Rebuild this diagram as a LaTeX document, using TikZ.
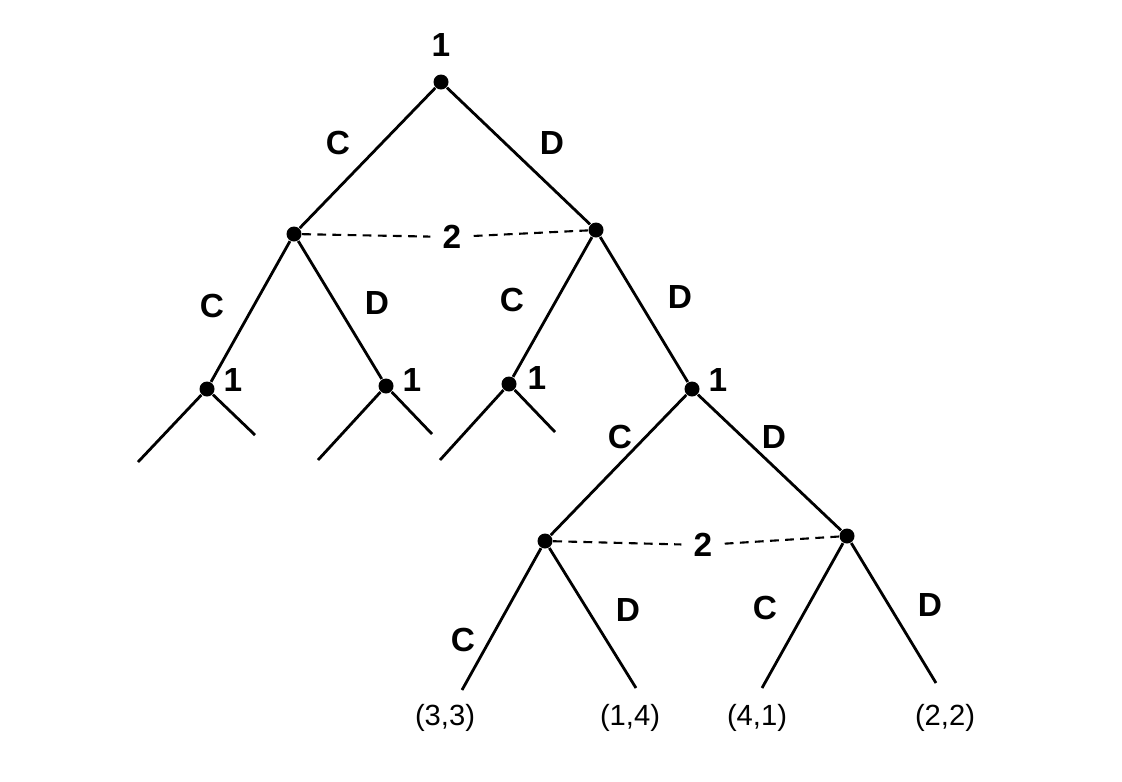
\documentclass[tikz,border=0pt]{standalone}
\usepackage{fontspec}
\setmainfont{Liberation Sans}
\begin{document}
\begin{tikzpicture}[x=0.01cm,y=-0.01cm,
  dot/.style={circle,fill=black,inner sep=0pt,minimum size=0.15cm},
  edge/.style={line width=0.8pt},
  info/.style={dash pattern=on 2.5pt off 1.8pt,line width=0.6pt},
  lab/.style={font=\fontsize{9.5}{10}\selectfont\bfseries},
  pay/.style={font=\fontsize{8.3}{9}\selectfont}]
\useasboundingbox (0,0) rectangle (1122,781);
\node[dot] (r) at (441,82) {};
\node[lab] (rl) at (441,45) {1};
\node[dot] (a) at (294,234) {};
\node[dot] (b) at (596,230) {};
\node[lab] (i1) at (452,237) {2};
\draw[info] (a) -- (i1); \draw[info] (i1) -- (b);
\draw[edge] (r) -- (a); \draw[edge] (r) -- (b);
\node[lab] at (338,143) {C}; \node[lab] at (552,143) {D};
\node[dot] (c1) at (207,389) {}; \node[lab] at (233,380) {1};
\node[dot] (c2) at (386,386) {}; \node[lab] at (412,380) {1};
\node[dot] (c3) at (509,384) {}; \node[lab] at (537,378) {1};
\node[dot] (c4) at (692,389) {}; \node[lab] at (718,380) {1};
\draw[edge] (a) -- (c1); \draw[edge] (a) -- (c2);
\draw[edge] (b) -- (c3); \draw[edge] (b) -- (c4);
\node[lab] at (212,306) {C}; \node[lab] at (377,303) {D};
\node[lab] at (512,300) {C}; \node[lab] at (680,297) {D};
\coordinate (s1) at (138,462); \coordinate (s2) at (255,435);
\coordinate (s3) at (318,460); \coordinate (s4) at (432,434);
\coordinate (s5) at (440,460); \coordinate (s6) at (555,432);
\draw[edge] (c1) -- (s1); \draw[edge] (c1) -- (s2);
\draw[edge] (c2) -- (s3); \draw[edge] (c2) -- (s4);
\draw[edge] (c3) -- (s5); \draw[edge] (c3) -- (s6);
\node[dot] (d1) at (545,541) {};
\node[dot] (d2) at (847,536) {};
\draw[edge] (c4) -- (d1); \draw[edge] (c4) -- (d2);
\node[lab] at (620,437) {C}; \node[lab] at (774,437) {D};
\node[lab] (i2) at (703,545) {2};
\draw[info] (d1) -- (i2); \draw[info] (i2) -- (d2);
\coordinate (l1) at (462,690); \coordinate (l2) at (636,688);
\coordinate (l3) at (762,688); \coordinate (l4) at (936,683);
\draw[edge] (d1) -- (l1); \draw[edge] (d1) -- (l2);
\draw[edge] (d2) -- (l3); \draw[edge] (d2) -- (l4);
\node[lab] at (463,640) {C}; \node[lab] at (628,610) {D};
\node[lab] at (765,608) {C}; \node[lab] at (930,605) {D};
\node[pay] at (445,718) {(3,3)}; \node[pay] at (630,718) {(1,4)};
\node[pay] at (757,718) {(4,1)}; \node[pay] at (945,718) {(2,2)};
\end{tikzpicture}
\end{document}
